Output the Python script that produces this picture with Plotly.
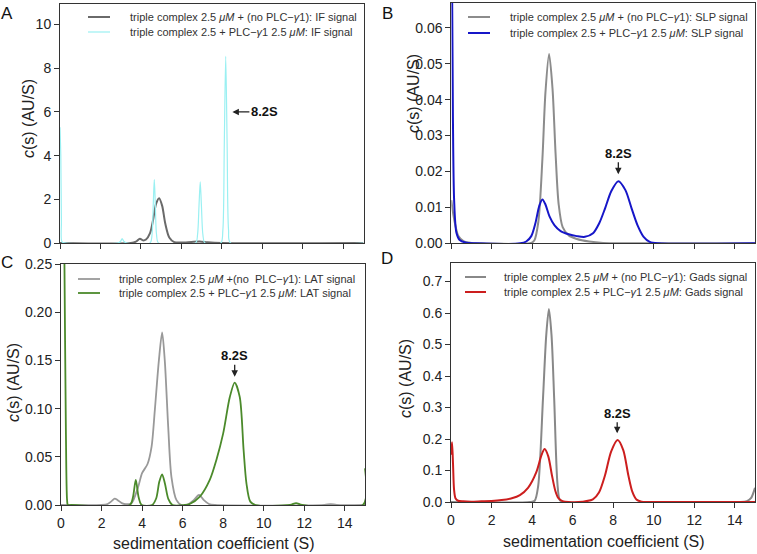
import plotly.graph_objects as go

W, H = 757, 554

# ---------------- data ----------------
# Panel A: IF signal
A_gray_s = [0, 3.5, 3.75, 3.95, 4.1, 4.25, 4.45, 4.6, 4.75, 4.9, 5.05, 5.2, 5.4, 5.65, 6.0, 6.5, 6.9, 7.3, 8.0, 15]
A_gray_c = [0, 0, 0.06, 0.2, 0.12, 0.16, 0.45, 1.05, 1.8, 2.05, 1.7, 0.9, 0.25, 0.04, 0.02, 0.05, 0.07, 0.03, 0, 0]
A_cyan_s = [0, 0.04, 0.07, 0.1, 0.3, 2.85, 3.0, 3.07, 3.15, 3.3, 4.45, 4.55, 4.61, 4.66, 4.71, 4.77, 4.87,
            6.7, 6.8, 6.87, 6.93, 6.99, 7.06, 7.16, 7.95, 8.05, 8.12, 8.19, 8.26, 8.33, 8.43, 15]
A_cyan_c = [5.3, 4.0, 1.0, 0.05, 0, 0, 0.08, 0.2, 0.08, 0, 0, 0.4, 1.8, 2.9, 1.8, 0.4, 0,
            0, 0.4, 1.7, 2.8, 1.7, 0.4, 0, 0, 0.6, 4.5, 8.55, 4.5, 0.6, 0, 0]

# Panel B: SLP signal
B_gray_s = [0, 0.1, 0.2, 0.35, 0.6, 1.0, 1.5, 3.9, 4.1, 4.3, 4.5, 4.65, 4.83, 5.0, 5.15, 5.3, 5.5, 5.8, 6.2, 6.8, 7.5, 8.5, 15]
B_gray_c = [0.012, 0.008, 0.005, 0.002, 0.0006, 0.0001, 0, 0, 0.0008, 0.006, 0.0235, 0.042, 0.0527, 0.043, 0.025, 0.011,
            0.0045, 0.0022, 0.0012, 0.0005, 0.0001, 0, 0]
B_blue_s = [0, 0.04, 0.08, 0.14, 0.25, 0.4, 0.7, 1.2, 3.4, 3.7, 3.95, 4.15, 4.35, 4.5, 4.65, 4.85, 5.1, 5.4, 5.8, 6.2,
            6.6, 7.0, 7.3, 7.6, 7.9, 8.25, 8.6, 8.9, 9.2, 9.5, 9.8, 10.2, 15]
B_blue_c = [0.08, 0.07, 0.035, 0.012, 0.003, 0.001, 0.0002, 0, 0, 0.0005, 0.002, 0.0055, 0.0105, 0.0122, 0.0108, 0.0075,
            0.005, 0.0034, 0.0025, 0.002, 0.0018, 0.0028, 0.0055, 0.0098, 0.0145, 0.0173, 0.0148, 0.0098, 0.005, 0.0018,
            0.0004, 0, 0]

# Panel C: LAT signal
C_gray_s = [0, 2.0, 2.3, 2.5, 2.65, 2.8, 3.0, 3.2, 3.48, 3.81, 4.0, 4.27, 4.47, 4.63, 4.83, 4.99, 5.12, 5.29, 5.45,
            5.7, 5.95, 6.3, 6.55, 6.81, 7.05, 7.3, 7.6, 13.0, 13.3, 13.6, 15]
C_gray_c = [0, 0, 0.001, 0.004, 0.0065, 0.005, 0.002, 0.0008, 0.002, 0.019, 0.033, 0.0425, 0.0605, 0.0985, 0.150,
            0.179, 0.15, 0.081, 0.029, 0.005, 0.0, 0.001, 0.005, 0.0104, 0.005, 0.001, 0, 0, 0.001, 0, 0]
C_green_s = [0, 0.1, 0.17, 0.24, 0.3, 0.34, 0.5, 3.4, 3.55, 3.69, 3.83, 3.98, 4.5, 4.7, 4.85, 4.99, 5.13, 5.3, 5.5,
             6.1, 6.35, 6.85, 7.34, 7.67, 8.0, 8.33, 8.57, 8.82, 9.01, 9.15, 9.34, 9.6, 11.3, 11.6, 11.9, 14.9, 15]
C_green_c = [0.6, 0.4, 0.25, 0.08, 0.005, 0, 0, 0, 0.008, 0.026, 0.008, 0, 0, 0.007, 0.024, 0.0318, 0.022, 0.006, 0,
             0, 0.001, 0.0086, 0.026, 0.047, 0.074, 0.112, 0.127, 0.112, 0.057, 0.0225, 0.0035, 0, 0, 0.002, 0, 0, 0.038]

# Panel D: Gads signal
D_gray_s = [0, 3.9, 4.13, 4.3, 4.54, 4.7, 4.83, 4.96, 5.09, 5.25, 5.37, 5.55, 14.3, 14.6, 14.8, 15]
D_gray_c = [0, 0, 0.004, 0.05, 0.33, 0.53, 0.613, 0.53, 0.33, 0.06, 0.006, 0, 0, 0.003, 0.012, 0.045]
D_red_s = [0, 0.05, 0.1, 0.15, 0.22, 0.35, 0.6, 1.0, 1.5, 2.0, 2.5, 3.0, 3.4, 3.8, 4.21, 4.46, 4.62, 4.8, 4.98, 5.15,
           5.3, 5.5, 5.8, 6.5, 7.0, 7.3, 7.6, 7.9, 8.22, 8.5, 8.75, 8.95, 9.15, 9.4, 9.8, 15]
D_red_c = [0.15, 0.19, 0.12, 0.04, 0.012, 0.004, 0.002, 0.001, 0.002, 0.003, 0.006, 0.012, 0.022, 0.045, 0.095,
           0.148, 0.168, 0.145, 0.085, 0.035, 0.012, 0.003, 0, 0.001, 0.008, 0.03, 0.085, 0.16, 0.197, 0.165, 0.085,
           0.032, 0.008, 0.001, 0, 0]

x_ticks = [0, 2, 4, 6, 8, 10, 12, 14]
A_yticks = [0, 2, 4, 6, 8, 10]
B_yticks = [0.00, 0.01, 0.02, 0.03, 0.04, 0.05, 0.06]
C_yticks = [0.00, 0.05, 0.10, 0.15, 0.20, 0.25]
D_yticks = [0.0, 0.1, 0.2, 0.3, 0.4, 0.5, 0.6, 0.7]

legend_texts = {
    "A": ["triple complex 2.5 <i>μM</i> + (no PLC−<i>γ</i>1): IF signal",
          "triple complex 2.5 + PLC−<i>γ</i>1 2.5 <i>μM</i>: IF signal"],
    "B": ["triple complex 2.5 <i>μM</i> + (no PLC−<i>γ</i>1): SLP signal",
          "triple complex 2.5 + PLC−<i>γ</i>1 2.5 <i>μM</i>: SLP signal"],
    "C": ["triple complex 2.5 <i>μM</i> +(no  PLC−<i>γ</i>1): LAT signal",
          "triple complex 2.5 + PLC−<i>γ</i>1 2.5 <i>μM</i>: LAT signal"],
    "D": ["triple complex 2.5 <i>μM</i> + (no PLC−<i>γ</i>1): Gads signal",
          "triple complex 2.5 + PLC−<i>γ</i>1 2.5 <i>μM</i>: Gads signal"],
}

FONT = "Arial, Liberation Sans, sans-serif"
AX = "#333333"

def px(x):
    return x / W

def py(y):
    return 1 - y / H

panels = {
    "A": dict(box=(60, 363.5, 4, 243), yr=[0, 10.94], yt=A_yticks, fmt="d",
              tr=[(A_gray_s, A_gray_c, "#6a6a6a", 2.0), (A_cyan_s, A_cyan_c, "#9af0f2", 1.2)],
              xlab=False),
    "B": dict(box=(451.3, 755, 3, 243.3), yr=[0, 0.0669], yt=B_yticks, fmt=".2f",
              tr=[(B_gray_s, B_gray_c, "#8c8c8c", 2.0), (B_blue_s, B_blue_c, "#1616c8", 2.0)],
              xlab=False),
    "C": dict(box=(61, 365, 264, 505), yr=[0, 0.25], yt=C_yticks, fmt=".2f",
              tr=[(C_gray_s, C_gray_c, "#999999", 1.8), (C_green_s, C_green_c, "#4b8a2b", 1.8)],
              xlab=True),
    "D": dict(box=(451, 755, 263, 502), yr=[0, 0.759], yt=D_yticks, fmt=".1f",
              tr=[(D_gray_s, D_gray_c, "#888888", 2.0), (D_red_s, D_red_c, "#cc1e1e", 2.0)],
              xlab=True),
}

fig = go.Figure()
layout = dict(width=W, height=H, margin=dict(l=0, r=0, t=0, b=0, pad=0, autoexpand=False),
              paper_bgcolor="white", plot_bgcolor="white", showlegend=False,
              font=dict(family=FONT, color="#222222"))
annotations = []
shapes = []

for i, (name, p) in enumerate(panels.items()):
    n = i + 1
    xa = "x" if n == 1 else f"x{n}"
    ya = "y" if n == 1 else f"y{n}"
    x0, x1, yt, yb = p["box"]
    for s, c, col, lw in p["tr"]:
        fig.add_trace(go.Scatter(x=s, y=c, mode="lines", xaxis=xa, yaxis=ya,
                                 line=dict(color=col, width=lw, shape="spline", smoothing=0.8),
                                 hoverinfo="skip"))
    common = dict(showgrid=False, zeroline=False, showline=True, mirror=True, linecolor=AX, linewidth=1,
                  ticks="outside", ticklen=5, tickcolor=AX, tickwidth=1, automargin=False,
                  tickfont=dict(family=FONT, size=14, color="#222222"))
    layout["xaxis" if n == 1 else f"xaxis{n}"] = dict(
        common, domain=[px(x0), px(x1)], range=[0, 15], anchor=ya,
        tickvals=x_ticks, showticklabels=p["xlab"])
    layout["yaxis" if n == 1 else f"yaxis{n}"] = dict(
        common, domain=[py(yb), py(yt)], range=p["yr"], anchor=xa,
        tickvals=p["yt"], tickformat=p["fmt"])

# panel letters
for letter, (x, y) in {"A": (7, 13), "B": (387, 13), "C": (7, 262), "D": (387, 258)}.items():
    annotations.append(dict(text=letter, x=px(x), y=py(y), xref="paper", yref="paper", showarrow=False,
                            xanchor="center", yanchor="middle", font=dict(family=FONT, size=17, color="#111")))

# y titles
for (x, y) in [(29, 119), (414, 94), (13, 383), (405, 378)]:
    annotations.append(dict(text="<i>c</i>(s) (AU/S)", x=px(x), y=py(y), xref="paper", yref="paper",
                            showarrow=False, textangle=-90, xanchor="center", yanchor="middle",
                            font=dict(family=FONT, size=16, color="#222")))
# x titles
for (x, y) in [(214, 543), (604, 541)]:
    annotations.append(dict(text="sedimentation coefficient (S)", x=px(x), y=py(y), xref="paper", yref="paper",
                            showarrow=False, xanchor="center", yanchor="middle",
                            font=dict(family=FONT, size=16, color="#222")))

# legends
leg_pos = {"A": (88, 110, 128, 17, 32), "B": (468, 490, 508, 17, 33),
           "C": (78, 100, 117, 279, 293), "D": (465, 486, 502, 277, 292)}
for name, (lx0, lx1, tx, r1, r2) in leg_pos.items():
    cols = [panels[name]["tr"][0][2], panels[name]["tr"][1][2]]
    lws = [panels[name]["tr"][0][3], panels[name]["tr"][1][3]]
    for row, (yy, col, lw, txt) in enumerate(zip([r1, r2], cols, lws, legend_texts[name])):
        shapes.append(dict(type="line", xref="paper", yref="paper", x0=px(lx0), x1=px(lx1),
                           y0=py(yy), y1=py(yy), line=dict(color=col, width=lw)))
        annotations.append(dict(text=txt, x=px(tx), y=py(yy), xref="paper", yref="paper", showarrow=False,
                                xanchor="left", yanchor="middle", font=dict(family=FONT, size=11, color="#333")))

# 8.2S markers
ann_font = dict(family=FONT, size=13, color="#111")
arrow_common = dict(showarrow=True, arrowhead=2, arrowsize=1, arrowwidth=1.3, arrowcolor="#222",
                    text="<b>8.2S</b>", font=ann_font)
annotations.append(dict(arrow_common, x=8.52, y=6.0, xref="x", yref="y", ax=32, ay=0))
annotations.append(dict(arrow_common, x=8.25, y=0.0192, xref="x2", yref="y2", ax=0, ay=-21))
annotations.append(dict(arrow_common, x=8.57, y=0.133, xref="x3", yref="y3", ax=0, ay=-21))
annotations.append(dict(arrow_common, x=8.2, y=0.218, xref="x4", yref="y4", ax=0, ay=-20))

layout["annotations"] = annotations
layout["shapes"] = shapes
fig.update_layout(**layout)
fig.write_html("out.html", config={"displayModeBar": False},
               post_script="document.body.style.margin='0px';document.body.style.padding='0px';"
                           "document.body.style.overflow='hidden';")
